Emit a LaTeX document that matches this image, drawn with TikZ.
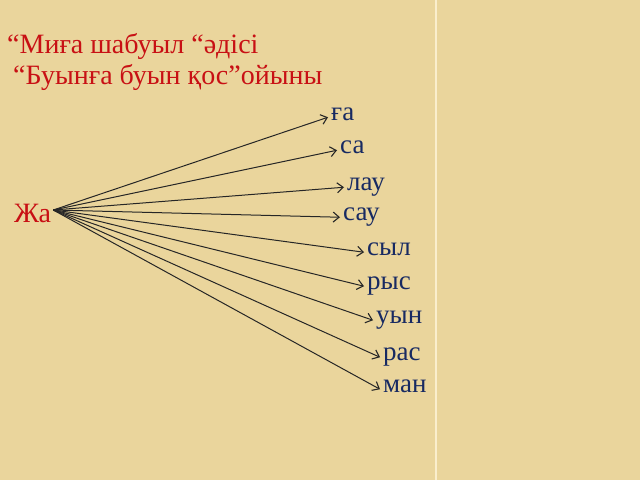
\documentclass[tikz,border=0pt]{standalone}
\usepackage{fontspec}
\setmainfont{Liberation Serif}
\usepackage{tikz}
\usetikzlibrary{arrows.meta}
\definecolor{paper}{RGB}{234,213,156}
\definecolor{seam}{RGB}{250,238,205}
\definecolor{titlered}{RGB}{200,16,20}
\definecolor{sylblue}{RGB}{24,42,98}

\begin{document}
\begin{tikzpicture}[x=1pt, y=-1pt,
    heading/.style={text=titlered, font=\fontsize{28}{33}\selectfont, anchor=base west, inner sep=0pt},
    syl/.style={text=sylblue, font=\fontsize{27}{32}\selectfont, anchor=base west, inner sep=3pt, text height=1.2ex, text depth=0pt},
    link/.style={black!85, line width=1pt, -{Straight Barb[length=6pt, width=10pt, line width=1.1pt]}}]
          \useasboundingbox (0, 0) rectangle (640, 480);
          \fill[paper] (0, 0) rectangle (640, 480);
          \draw[seam, line width=1.4pt] (436, 0) -- (436, 480);
          \node[heading] at (7, 53) (t1) {“Миға шабуыл “әдісі};
          \node[heading] at (13, 84) (t2) {“Буынға буын қос”ойыны};
          \node[heading, text height=24pt, text depth=0pt, inner sep=2pt] at (12, 222) (ja) {Жа};
          \node[syl] at (328, 120) (ga) {ға};
          \node[syl] at (337, 153) (sa) {са};
          \node[syl] at (344, 190) (lau) {лау};
          \node[syl] at (340, 220) (sau) {сау};
          \node[syl] at (364, 255) (syl) {сыл};
          \node[syl] at (364, 289) (rys) {рыс};
          \node[syl] at (373, 323) (uyn) {уын};
          \node[syl] at (380, 360) (ras) {рас};
          \node[syl] at (380, 392) (man) {ман};
          \draw[link] (ja.east) -- (ga.west);
          \draw[link] (ja.east) -- (sa.west);
          \draw[link] (ja.east) -- (lau.west);
          \draw[link] (ja.east) -- (sau.west);
          \draw[link] (ja.east) -- (syl.west);
          \draw[link] (ja.east) -- (rys.west);
          \draw[link] (ja.east) -- (uyn.west);
          \draw[link] (ja.east) -- (ras.west);
          \draw[link] (ja.east) -- (man.west);
        \end{tikzpicture}
\end{document}
